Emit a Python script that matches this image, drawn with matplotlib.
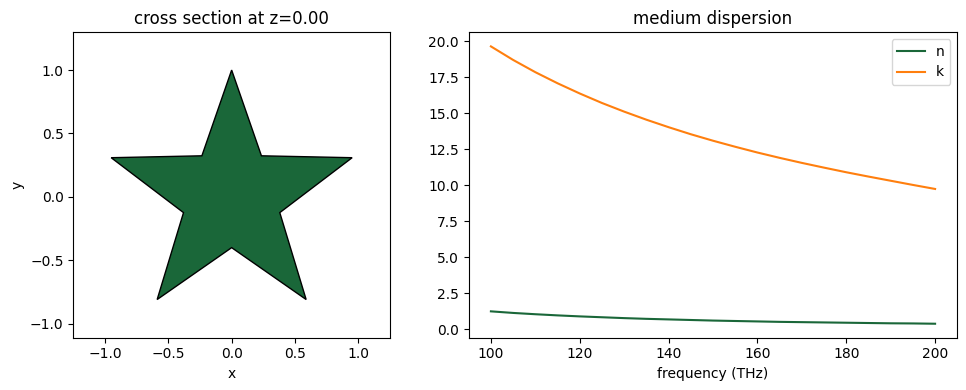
import matplotlib
matplotlib.use("Agg")
import matplotlib.pyplot as plt
from matplotlib.patches import Polygon

# star cross section vertices (x, y)
star_x = [0.0, 0.235, 0.951, 0.380, 0.588, 0.0, -0.588, -0.380, -0.951, -0.235]
star_y = [1.0, 0.324, 0.309, -0.124, -0.809, -0.4, -0.809, -0.124, 0.309, 0.324]

# medium dispersion
freq = [100, 105, 110, 115, 120, 125, 130, 135, 140, 145, 150,
        155, 160, 165, 170, 175, 180, 185, 190, 195, 200]
n_vals = [1.25, 1.14, 1.05, 0.97, 0.90, 0.84, 0.78, 0.73, 0.69, 0.65, 0.61,
          0.58, 0.55, 0.52, 0.50, 0.48, 0.46, 0.44, 0.42, 0.41, 0.39]
k_vals = [19.65, 18.71, 17.86, 17.09, 16.38, 15.72, 15.12, 14.56, 14.04, 13.55, 13.10,
          12.68, 12.28, 11.91, 11.56, 11.23, 10.91, 10.61, 10.32, 10.03, 9.75]

green = '#1a6739'
orange = '#ff7f0e'

fig = plt.figure(figsize=(9.66, 3.9), dpi=100)

ax = fig.add_axes([73.3/966, 1 - 337.7/390, 316.7/966, 305.7/390])
ax.add_patch(Polygon(list(zip(star_x, star_y)), closed=True,
                     facecolor=green, edgecolor='black', linewidth=1))
ax.set_xlim(-1.25, 1.25)
ax.set_ylim(-1.11, 1.30)
ax.set_xticks([-1.0, -0.5, 0.0, 0.5, 1.0])
ax.set_yticks([-1.0, -0.5, 0.0, 0.5, 1.0])
ax.set_xlabel('x')
ax.set_ylabel('y')
ax.set_title('cross section at z=0.00')

ax = fig.add_axes([468.7/966, 1 - 337.7/390, 488.6/966, 305.7/390])
ax.plot(freq, n_vals, color=green, label='n')
ax.plot(freq, k_vals, color=orange, label='k')
ax.set_xlim(95, 205)
ax.set_ylim(-0.58, 20.65)
ax.set_xticks([100, 120, 140, 160, 180, 200])
ax.set_yticks([0.0, 2.5, 5.0, 7.5, 10.0, 12.5, 15.0, 17.5, 20.0])
ax.set_xlabel('frequency (THz)')
ax.set_title('medium dispersion')
ax.legend(loc='upper right')

fig.savefig('out.png', dpi=100)
